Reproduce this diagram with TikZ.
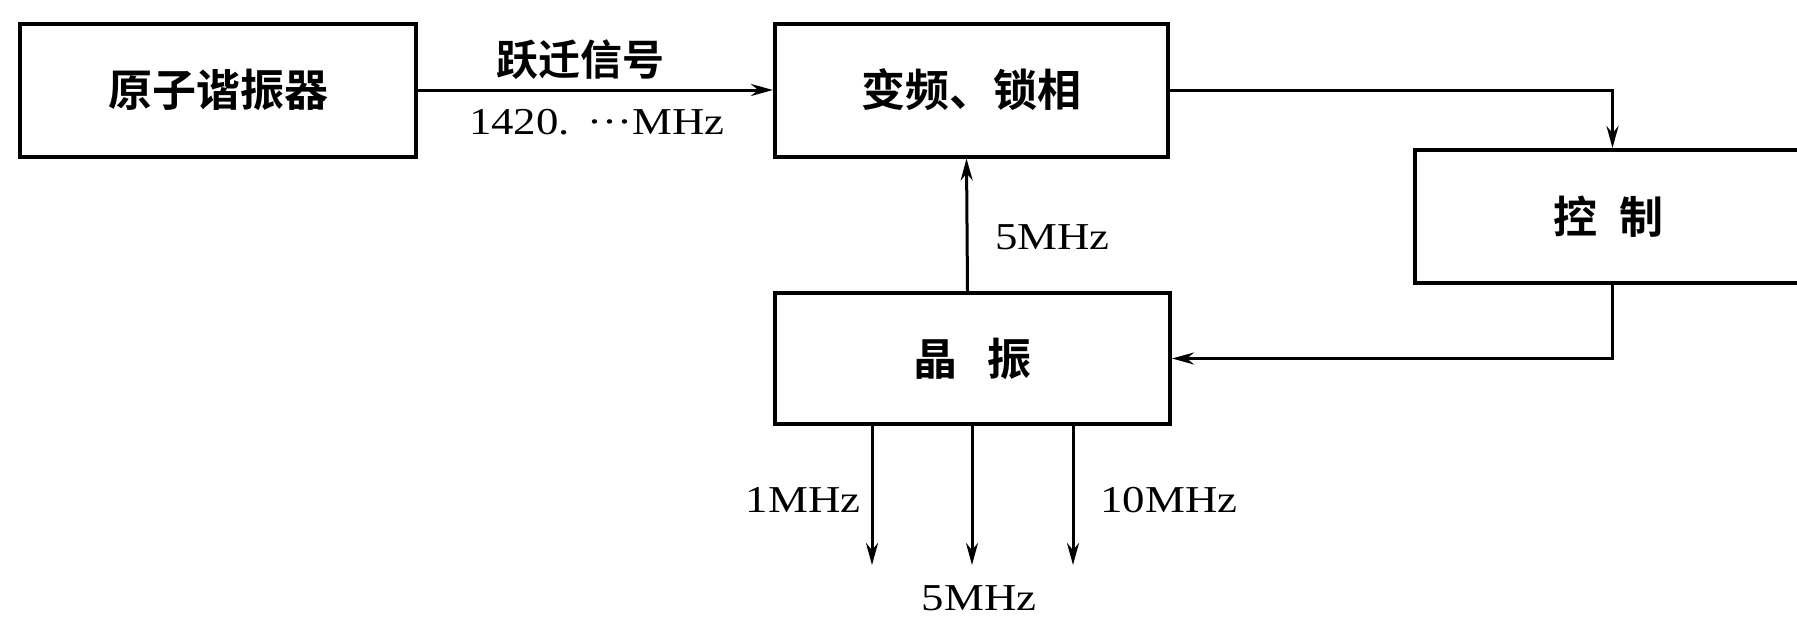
\documentclass[tikz,border=0pt]{standalone}
\usepackage{fontspec}
\setmainfont{Liberation Serif}
\newfontfamily\cjk{Noto Sans CJK SC Bold}
\usetikzlibrary{arrows.meta}
\begin{document}
\begin{tikzpicture}[x=1pt,y=-1pt,
  box/.style={draw, fill=white, line width=4pt, minimum height=133pt, inner sep=0pt,
              font=\cjk\fontsize{44}{48}\selectfont},
  lab/.style={font=\fontsize{38}{42}\selectfont, xscale=1.18, transform shape, inner sep=0pt},
  cjklab/.style={font=\cjk\fontsize{42}{46}\selectfont, inner sep=0pt},
  arr/.style={line width=3pt, -{Stealth[length=22pt,width=12pt]}}]
\useasboundingbox (0,0) rectangle (1797,619);
\path[clip] (0,0) rectangle (1797,619);
\fill[white] (0,0) rectangle (1797,619);

\node[box, minimum width=396pt] (res) at (218,90) {原子谐振器};
\node[box, minimum width=393pt] (conv) at (971.5,90) {变频、锁相};
\node[box, minimum width=415pt] (ctrl) at (1622.5,216.5) {};
\node[cjklab, font=\cjk\fontsize{44}{48}\selectfont] (ctrltxt) at (1608,217) {控\hspace{22pt}制};
\node[box, minimum width=395pt, minimum height=131pt] (xo) at (972.5,358.5) {晶\hspace{30pt}振};

\draw[arr] (res.east) -- (conv.west);
\node[cjklab] (l1) at (580,60) {跃迁信号};
\node[lab] (l2) at (597,122) {1420.\hspace{0.4em}···MHz};

\draw[arr] (conv.east) -| ([xshift=-10pt]ctrl.north);
\draw[arr] ([xshift=-10pt]ctrl.south) |- (xo.east);
\draw[arr] ([xshift=-5pt]xo.north) -- ([xshift=-5pt]conv.south);
\node[lab, anchor=west] (l3) at (995,237) {5MHz};

\coordinate (o1) at (872,565);
\coordinate (o2) at (972,565);
\coordinate (o3) at (1073,565);
\draw[arr] (xo.south -| o1) -- (o1);
\draw[arr] (xo.south -| o2) -- (o2);
\draw[arr] (xo.south -| o3) -- (o3);
\node[lab] (l4) at (803,500) {1MHz};
\node[lab] (l5) at (1169,500) {10MHz};
\node[lab] (l6) at (979,598) {5MHz};
\end{tikzpicture}
\end{document}
